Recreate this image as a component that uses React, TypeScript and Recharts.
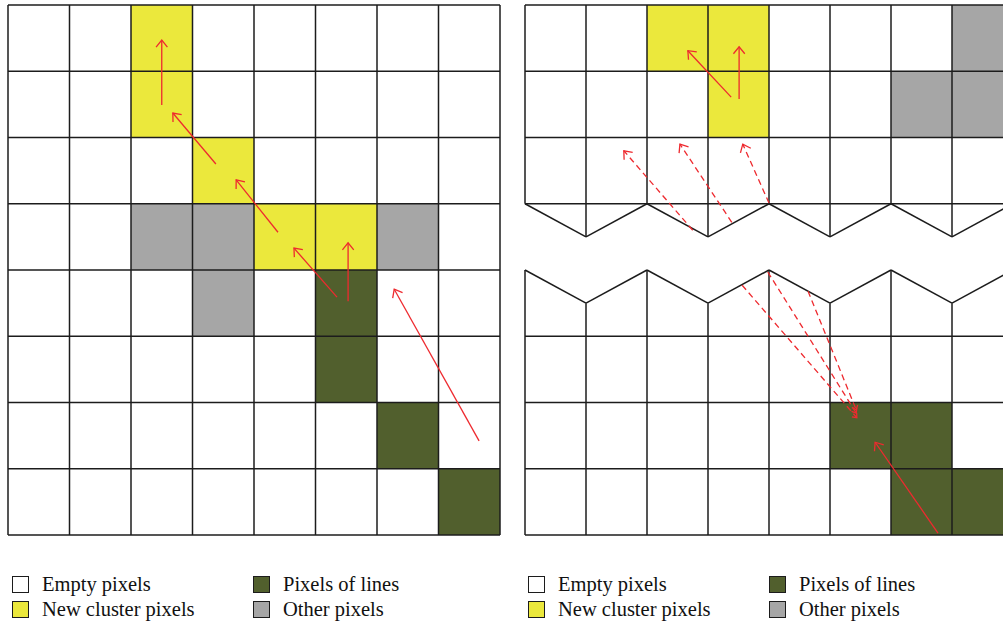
import React from "react";
import { ComposedChart, XAxis, YAxis, ReferenceArea, ReferenceLine } from "recharts";

const YELLOW = "#ebe83c";
const GRAY = "#a6a6a6";
const GREEN = "#515f2d";
const RED = "#ee2a2f";
const INK = "#1c1c1c";

// cells as [col, row], row 0 at the top
const leftYellow = [[2, 0], [2, 1], [3, 2], [4, 3], [5, 3]];
const leftGray = [[2, 3], [3, 3], [6, 3], [3, 4]];
const leftGreen = [[5, 4], [5, 5], [6, 6], [7, 7]];

const rightYellow = [[2, 0], [3, 0], [3, 1]];
const rightGray = [[7, 0], [6, 1], [7, 1]];
const rightGreen = [[5, 6], [6, 6], [6, 7], [7, 7]];

// arrows as [tailX, tailY, headX, headY] in cell units
const leftArrows = [
  [2.5, 1.51, 2.5, 0.53],
  [3.38, 2.4, 2.68, 1.63],
  [4.39, 3.43, 3.71, 2.64],
  [5.35, 4.41, 4.65, 3.67],
  [5.53, 4.47, 5.53, 3.59],
  [7.66, 6.58, 6.28, 4.29],
];

const rightArrows = [
  [3.38, 1.39, 2.67, 0.69],
  [3.51, 1.42, 3.51, 0.63],
  [6.77, 7.97, 5.74, 6.6],
];

const rightDashedUp = [
  [2.75, 3.4, 1.62, 2.2],
  [3.39, 3.28, 2.54, 2.1],
  [4.0, 2.99, 3.57, 2.1],
];

const rightDashedDown = [
  [3.56, 4.23, 5.44, 6.23],
  [3.98, 4.03, 5.43, 6.16],
  [4.64, 4.32, 5.43, 6.11],
];

const COLS = [0, 1, 2, 3, 4, 5, 6, 7, 8];
const ROWS = [0, 1, 2, 3, 4, 5, 6, 7, 8];
const rightRowsTop = [0, 1, 2, 3];
const rightRowsBottom = [5, 6, 7, 8];
const breakTop = [3, 3.5]; // peak, valley
const breakBottom = [4, 4.5];

const legendItems = [
  { label: "Empty pixels", color: "#ffffff" },
  { label: "Pixels of lines", color: GREEN },
  { label: "New cluster pixels", color: YELLOW },
  { label: "Other pixels", color: GRAY },
];

function arrowShape(dashed: boolean, head: number) {
  return (p: any) => {
    const { x1, y1, x2, y2 } = p;
    const a = Math.atan2(y2 - y1, x2 - x1);
    const s = 0.68;
    const l = [x2 - head * Math.cos(a - s), y2 - head * Math.sin(a - s)];
    const r = [x2 - head * Math.cos(a + s), y2 - head * Math.sin(a + s)];
    return (
      <g>
        <line
          x1={x1}
          y1={y1}
          x2={x2}
          y2={y2}
          stroke={RED}
          strokeWidth={1.3}
          strokeDasharray={dashed ? "6 4" : undefined}
        />
        <polyline
          points={`${l[0]},${l[1]} ${x2},${y2} ${r[0]},${r[1]}`}
          fill="none"
          stroke={RED}
          strokeWidth={1.3}
        />
      </g>
    );
  };
}

function seg(x1: number, y1: number, x2: number, y2: number, key: string) {
  return (
    <ReferenceLine
      key={key}
      segment={[{ x: x1, y: y1 }, { x: x2, y: y2 }]}
      stroke={INK}
      strokeWidth={1.5}
    />
  );
}

function cells(list: number[][], fill: string, pre: string) {
  return list.map(([c, r], i) => (
    <ReferenceArea
      key={pre + i}
      x1={c}
      x2={c + 1}
      y1={r}
      y2={r + 1}
      fill={fill}
      fillOpacity={1}
      stroke="none"
    />
  ));
}

function arrows(list: number[][], dashed: boolean, head: number, pre: string) {
  return list.map(([a, b, c, d], i) => (
    <ReferenceLine
      key={pre + i}
      segment={[{ x: a, y: b }, { x: c, y: d }]}
      shape={arrowShape(dashed, head)}
    />
  ));
}

const dummy = [{ x: 0, y: 0 }, { x: 8, y: 8 }];

function Axes() {
  return null;
}

function LeftGrid() {
  return (
    <ComposedChart width={496} height={534} data={dummy} margin={{ top: 2, right: 2, bottom: 2, left: 2 }}>
      <XAxis type="number" dataKey="x" domain={[0, 8]} hide allowDataOverflow />
      <YAxis type="number" dataKey="y" domain={[0, 8]} hide reversed allowDataOverflow />
      {cells(leftYellow, YELLOW, "ly")}
      {cells(leftGray, GRAY, "lg")}
      {cells(leftGreen, GREEN, "ln")}
      {COLS.map((c) => seg(c, 0, c, 8, "v" + c))}
      {ROWS.map((r) => seg(0, r, 8, r, "h" + r))}
      {arrows(leftArrows, false, 9, "la")}
    </ComposedChart>
  );
}

function RightGrid() {
  const zig = (ys: number[], pre: string) =>
    COLS.slice(0, 8).map((c) =>
      seg(c, ys[c % 2], c + 1, ys[(c + 1) % 2], pre + c)
    );
  return (
    <ComposedChart width={492} height={534} data={dummy} margin={{ top: 2, right: 2, bottom: 2, left: 2 }}>
      <XAxis type="number" dataKey="x" domain={[0, 8]} hide allowDataOverflow />
      <YAxis type="number" dataKey="y" domain={[0, 8]} hide reversed allowDataOverflow />
      {cells(rightYellow, YELLOW, "ry")}
      {cells(rightGray, GRAY, "rg")}
      {cells(rightGreen, GREEN, "rn")}
      {rightRowsTop.map((r) => seg(0, r, 8, r, "ht" + r))}
      {rightRowsBottom.map((r) => seg(0, r, 8, r, "hb" + r))}
      {COLS.map((c) => seg(c, 0, c, breakTop[c % 2], "vt" + c))}
      {COLS.map((c) => seg(c, breakBottom[c % 2], c, 8, "vb" + c))}
      {zig(breakTop, "zt")}
      {zig(breakBottom, "zb")}
      {arrows(rightArrows, false, 9, "ra")}
      {arrows(rightDashedUp, true, 9, "rdu")}
      {arrows(rightDashedDown, true, 5, "rdd")}
    </ComposedChart>
  );
}

function Legend({ left }: { left: number }) {
  const colX = [0, 241];
  return (
    <>
      {legendItems.map((it, i) => {
        const col = i % 2;
        const row = Math.floor(i / 2);
        const x = left + colX[col];
        return (
          <React.Fragment key={it.label}>
            <div
              style={{
                position: "absolute",
                left: x,
                top: 576 + row * 25,
                width: 15,
                height: 15,
                background: it.color,
                border: `1.3px solid ${INK}`,
              }}
            />
            <div
              style={{
                position: "absolute",
                left: x + 30,
                top: 574 + row * 25,
                lineHeight: "20px",
                fontSize: 20.5,
                fontFamily: "'Liberation Serif', serif",
                color: "#111",
                whiteSpace: "nowrap",
              }}
            >
              {it.label}
            </div>
          </React.Fragment>
        );
      })}
    </>
  );
}

export default function App() {
  return (
    <div
      style={{
        position: "absolute",
        left: 0,
        top: 0,
        width: 1003,
        height: 627,
        overflow: "hidden",
        background: "#fff",
      }}
    >
      <div style={{ position: "absolute", left: 6, top: 3 }}>
        <LeftGrid />
      </div>
      <div style={{ position: "absolute", left: 523, top: 3 }}>
        <RightGrid />
      </div>
      <Legend left={12} />
      <Legend left={528} />
    </div>
  );
}
